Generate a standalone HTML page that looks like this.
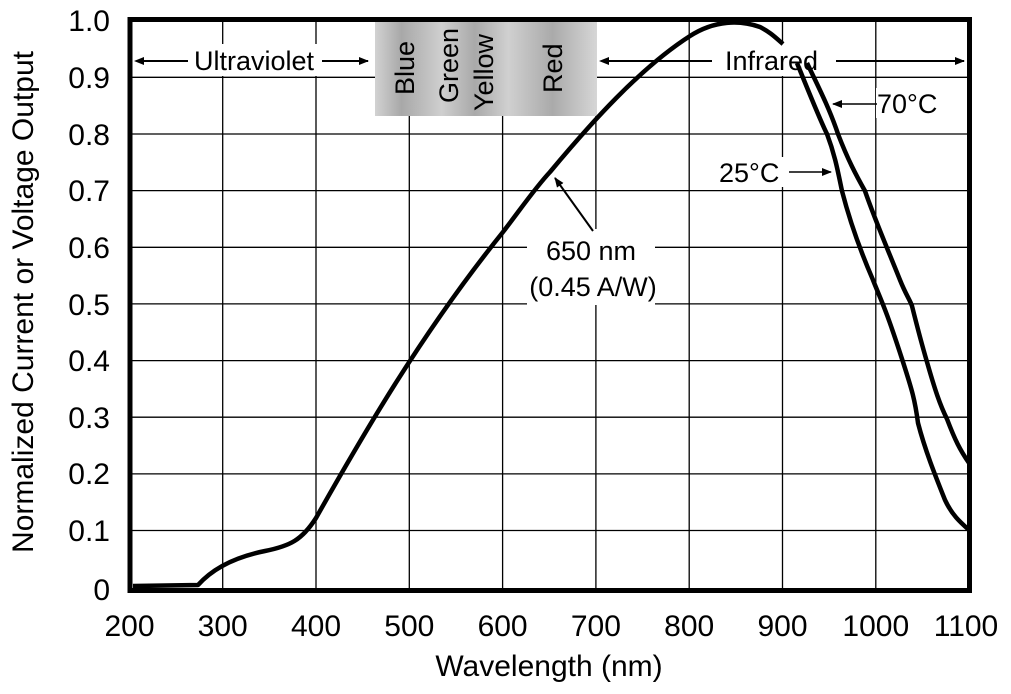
<!DOCTYPE html>
<html><head><meta charset="utf-8"><style>
html,body{margin:0;padding:0;background:#fff;}
svg{display:block;font-family:"Liberation Sans",Arial,sans-serif;}
</style></head><body>
<svg width="1011" height="694" viewBox="0 0 1011 694" xmlns="http://www.w3.org/2000/svg">
<defs>
<linearGradient id="band" x1="0" x2="1" y1="0" y2="0">
<stop offset="0" stop-color="#d2d2d2"/>
<stop offset="0.12" stop-color="#a8a8a8"/>
<stop offset="0.3" stop-color="#cfcfcf"/>
<stop offset="0.45" stop-color="#a9a9a9"/>
<stop offset="0.6" stop-color="#d0d0d0"/>
<stop offset="0.8" stop-color="#aaaaaa"/>
<stop offset="1" stop-color="#d6d6d6"/>
</linearGradient>
<marker id="ah" markerWidth="10" markerHeight="8" refX="9" refY="4" orient="auto" markerUnits="userSpaceOnUse">
<path d="M0,0 L10,4 L0,8 z" fill="#000"/></marker>
</defs>
<g stroke="#000" stroke-width="1.3">
<line x1="222.7" y1="22" x2="222.7" y2="588"/>
<line x1="316" y1="22" x2="316" y2="588"/>
<line x1="409.3" y1="22" x2="409.3" y2="588"/>
<line x1="502.6" y1="22" x2="502.6" y2="588"/>
<line x1="595.9" y1="22" x2="595.9" y2="588"/>
<line x1="689.2" y1="22" x2="689.2" y2="588"/>
<line x1="782.5" y1="22" x2="782.5" y2="588"/>
<line x1="875.8" y1="22" x2="875.8" y2="588"/>
<line x1="132" y1="77.3" x2="967" y2="77.3"/>
<line x1="132" y1="134" x2="967" y2="134"/>
<line x1="132" y1="190.6" x2="967" y2="190.6"/>
<line x1="132" y1="247.3" x2="967" y2="247.3"/>
<line x1="132" y1="303.9" x2="967" y2="303.9"/>
<line x1="132" y1="360.6" x2="967" y2="360.6"/>
<line x1="132" y1="417.2" x2="967" y2="417.2"/>
<line x1="132" y1="473.9" x2="967" y2="473.9"/>
<line x1="132" y1="530.5" x2="967" y2="530.5"/>
</g>
<rect x="375" y="22" width="222" height="94" fill="url(#band)"/>
<g font-size="27" fill="#000">
<text transform="translate(414,95) rotate(-90)">Blue</text>
<text transform="translate(458,103) rotate(-90)">Green</text>
<text transform="translate(493,111) rotate(-90)">Yellow</text>
<text transform="translate(562,93) rotate(-90)">Red</text>
</g>
<rect x="188" y="44" width="132" height="32" fill="#fff"/>
<rect x="714" y="44" width="120" height="32" fill="#fff"/>
<g stroke="#000" stroke-width="2">
<line x1="142" y1="61" x2="188" y2="61"/>
<line x1="322" y1="61" x2="368" y2="61" marker-end="url(#ah)"/>
<line x1="606" y1="61" x2="712" y2="61"/>
<line x1="836" y1="61" x2="964" y2="61" marker-end="url(#ah)"/>
</g>
<path d="M134,61 L144,57 L144,65 z" fill="#000"/>
<path d="M599,61 L609,57 L609,65 z" fill="#000"/>
<g font-size="27" fill="#000">
<text x="194" y="70">Ultraviolet</text>
<text x="725" y="70">Infrared</text>
</g>
<g fill="none" stroke="#000" stroke-width="4.5" stroke-linejoin="round">
<path d="M133,586 L198,585 C215,566 240,556 265,551 C290,546 302,540 316,518 C360,440 420,335 503,232 C520,210 535,188 550,172 C590,124 640,68 690,36 C715,20 740,20 760,27 C770,32 776,38 783,44"/>
<path d="M797,63 C812,100 820,120 827,134 C835,155 838,172 842,191 C850,222 860,250 873,280 C880,298 885,306 903,362 C912,390 915,400 918,423 C925,450 935,475 945,500 C952,515 960,522 969,530"/>
<path d="M807,63 C820,90 830,110 838,134 C848,160 856,175 865,191 C875,220 888,250 900,280 C906,295 910,300 912,306 C918,330 922,345 927,362 C935,390 940,405 947,419 C955,440 960,450 969,463"/>
</g>
<rect x="527" y="229" width="128" height="76" fill="#fff"/>
<g font-size="27" fill="#000" text-anchor="middle">
<text x="591" y="260">650 nm</text>
<text x="593" y="296">(0.45 A/W)</text>
</g>
<line x1="593" y1="231" x2="555" y2="178" stroke="#000" stroke-width="2" marker-end="url(#ah)"/>
<rect x="876" y="88" width="70" height="30" fill="#fff"/>
<text x="877" y="113" font-size="27">70°C</text>
<line x1="877" y1="104" x2="833" y2="104" stroke="#000" stroke-width="1.5" marker-end="url(#ah)"/>
<rect x="716" y="157" width="70" height="30" fill="#fff"/>
<text x="719" y="182" font-size="27">25°C</text>
<line x1="789" y1="172" x2="831" y2="172" stroke="#000" stroke-width="1.5" marker-end="url(#ah)"/>
<rect x="130" y="19.5" width="839.5" height="571" fill="none" stroke="#000" stroke-width="5"/>
<g font-size="30" fill="#000" text-anchor="end">
<text x="110" y="31">1.0</text>
<text x="110" y="88">0.9</text>
<text x="110" y="145">0.8</text>
<text x="110" y="201">0.7</text>
<text x="110" y="258">0.6</text>
<text x="110" y="315">0.5</text>
<text x="110" y="371">0.4</text>
<text x="110" y="428">0.3</text>
<text x="110" y="484">0.2</text>
<text x="110" y="541">0.1</text>
<text x="110" y="600">0</text>
</g>
<g font-size="30" fill="#000" text-anchor="middle">
<text x="129.5" y="636">200</text>
<text x="222.7" y="636">300</text>
<text x="316" y="636">400</text>
<text x="409.3" y="636">500</text>
<text x="502.6" y="636">600</text>
<text x="595.9" y="636">700</text>
<text x="689.2" y="636">800</text>
<text x="782.5" y="636">900</text>
<text x="875.8" y="636">1000</text>
<text x="966" y="636">1100</text>
<text x="549" y="676">Wavelength (nm)</text>
<text transform="translate(33,302) rotate(-90)">Normalized Current or Voltage Output</text>
</g>
</svg>
</body></html>
